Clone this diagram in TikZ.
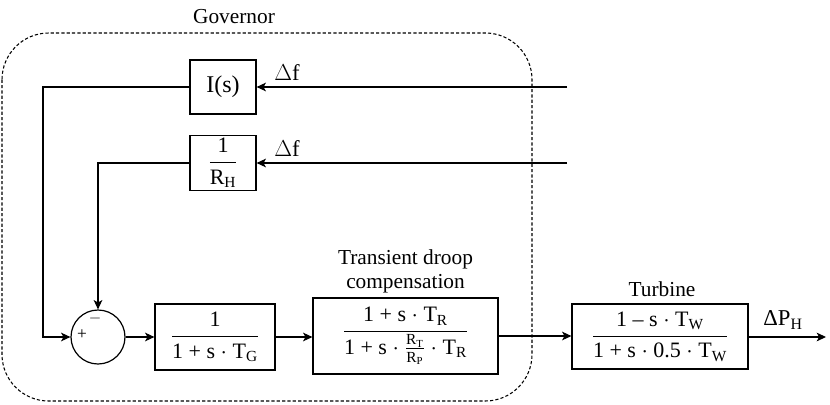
\documentclass[tikz,border=0pt]{standalone}
\usepackage{fontspec}
\usepackage{amsmath}
\setmainfont{Liberation Serif}
\usetikzlibrary{arrows.meta}
\newcommand\fr[2]{$\displaystyle\frac{\text{#1}}{\text{#2}}$}
\newcommand\dt{$\cdot$}
\begin{document}
\begin{tikzpicture}[x=0.75pt,y=-0.75pt,
 blk/.style={draw,line width=0.9pt,inner sep=0pt,font=\fontsize{16.5}{18}\selectfont},
 lbl/.style={font=\fontsize{16}{18}\selectfont,align=center,inner sep=0pt},
 con/.style={line width=0.9pt,-{Stealth[length=7pt,width=6.5pt,inset=1.8pt]}},
 sgn/.style={font=\fontsize{13}{13}\selectfont,inner sep=0pt}]
\useasboundingbox (0,0) rectangle (830,404);
\draw[dash pattern=on 2.4pt off 1.6pt,line width=0.8pt,rounded corners=35pt] (2,33) rectangle (532,401);
\node[lbl] (gov) at (234,17) {Governor};
\node[blk,minimum width=49.5pt,minimum height=40.5pt] (is) at (223,87) {\fontsize{18}{20}\selectfont I(s)};
\node[blk,minimum width=49.5pt,minimum height=41pt] (rh) at (223,163) {\fr{1}{R\textsubscript{H}}};
\node[circle,draw,line width=0.9pt,minimum size=40.5pt,inner sep=0pt] (sum) at (98,337) {};
\node[sgn] (mn) at (95,318) {$-$};
\node[sgn] (pl) at (82,335) {+};
\node[blk,minimum width=90pt,minimum height=49.5pt] (g) at (215,337) {\fr{1}{1 + s \dt{} T\textsubscript{G}}};
\node[blk,minimum width=138.75pt,minimum height=57pt] (tr) at (405.5,336) {\fr{1 + s \dt{} T\textsubscript{R}}{1 + s \dt{} $\frac{\text{R\textsubscript{T}}}{\text{R\textsubscript{P}}}$ \dt{} T\textsubscript{R}}};
\node[lbl] (trl) at (405.5,271) {Transient droop\\compensation};
\node[blk,minimum width=132pt,minimum height=48.75pt] (tb) at (660,336.5) {\fr{1 -- s \dt{} T\textsubscript{W}}{1 + s \dt{} 0.5 \dt{} T\textsubscript{W}}};
\node[lbl] (tbl) at (662,289) {Turbine};
\coordinate (in1) at (567,87);
\coordinate (in2) at (567,163);
\coordinate (c1) at (43,87);
\coordinate (out) at (826,337);
\draw[con] (in1) -- (is.east);
\draw[con] (in2) -- (rh.east);
\node[lbl] (df1) at (287,73) {\fontsize{17}{18}\selectfont$\Delta$f};
\node[lbl] (df2) at (287,149) {\fontsize{17}{18}\selectfont$\Delta$f};
\draw[con] (is.west) -- (c1) |- (sum.west);
\draw[con] (rh.west) -| (sum.north);
\draw[con] (sum.east) -- (g.west);
\draw[con] (g.east) -- (g.east -| tr.west);
\draw[con] (tr.east) -- (tr.east -| tb.west);
\draw[con] (tb.east |- out) -- (out);
\node[lbl] (dp) at (783,320) {\fontsize{17}{18}\selectfont ΔP\textsubscript{H}};
\end{tikzpicture}
\end{document}
